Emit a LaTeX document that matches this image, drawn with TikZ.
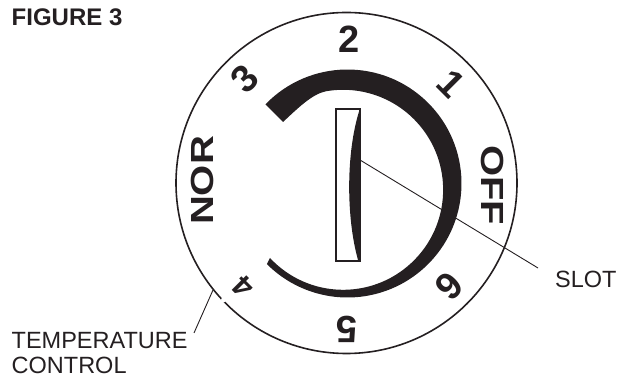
\documentclass[tikz,border=0pt]{standalone}
\usepackage{fontspec}
\setmainfont{Liberation Sans}
\usepackage{tikz}
\usetikzlibrary{positioning,calc}
\definecolor{inkblack}{rgb}{0.14,0.12,0.13}
\tikzset{
  dialnum/.style ={font=\bfseries\fontsize{38}{38}\selectfont, text=inkblack, inner sep=0pt},
  dialword/.style={font=\bfseries\fontsize{40}{40}\selectfont, text=inkblack, inner sep=0pt, xscale=0.8},
  callout/.style ={font=\fontsize{23.5}{25}\selectfont, text=inkblack, align=left, inner sep=0pt},
  leader/.style  ={draw=inkblack, line width=0.9pt},
}
\begin{document}
\begin{tikzpicture}[x=1pt,y=1pt]
  \useasboundingbox (0,0) rectangle (626,377);
  % dial
  \coordinate (hub) at (346.5,194);
  \draw[inkblack, line width=1.6pt] (hub) circle[radius=170.5];
  \fill[white] (223.5,77) circle[radius=2.5];
  \fill[inkblack] (347.5,193.5) ++(136:114) arc[start angle=136, end angle=-135, radius=114]
    -- (270,119) arc[start angle=-137, end angle=100, radius=100]
    .. controls (312,283) and (297,268) .. (283,255) -- cycle;
  % slot
  \node[draw=inkblack, line width=2pt, minimum width=24pt, minimum height=152pt, inner sep=0pt] (slot) at (348,192) {};
  \fill[inkblack] (359.5,267) .. controls (346,225) and (346,160) .. (358,117) -- (359.5,117) -- cycle;
  % numbers
  \node[dialnum]                (two)   at (349,338) {2};
  \node[dialnum, rotate=45]     (three) at (245,298) {3};
  \node[dialnum, rotate=-45]    (one)   at (451,293) {1};
  \node[dialword, rotate=90]    (nor)   at (202.5,196.5) {NOR};
  \node[dialword, rotate=-90]   (off)   at (492.5,192) {OFF};
  \node[dialnum, rotate=-135]   (six)   at (449,91)  {6};
  \node[dialnum, rotate=180]    (five)  at (347,48)  {5};
  \node[dialnum, rotate=135, font=\bfseries\fontsize{30}{30}\selectfont] (four) at (243,90) {4};
  % labels
  \node[font=\bfseries\fontsize{24}{24}\selectfont, text=inkblack, inner sep=0pt, anchor=west] (fig) at (11.5,359.5) {FIGURE 3};
  \node[callout, anchor=west] (slotlbl) at (555,97.5) {SLOT};
  \node[callout, anchor=north west] (templbl) at (11.5,45) {TEMPERATURE\\CONTROL};
  \coordinate (slottip) at (360,217);
  \coordinate (slotend) at (538,109);
  \coordinate (temptip) at (213,87);
  \coordinate (tempend) at (194,44);
  \draw[leader] (slottip) -- (slotend);
  \draw[leader] (temptip) -- (tempend);
\end{tikzpicture}
\end{document}
